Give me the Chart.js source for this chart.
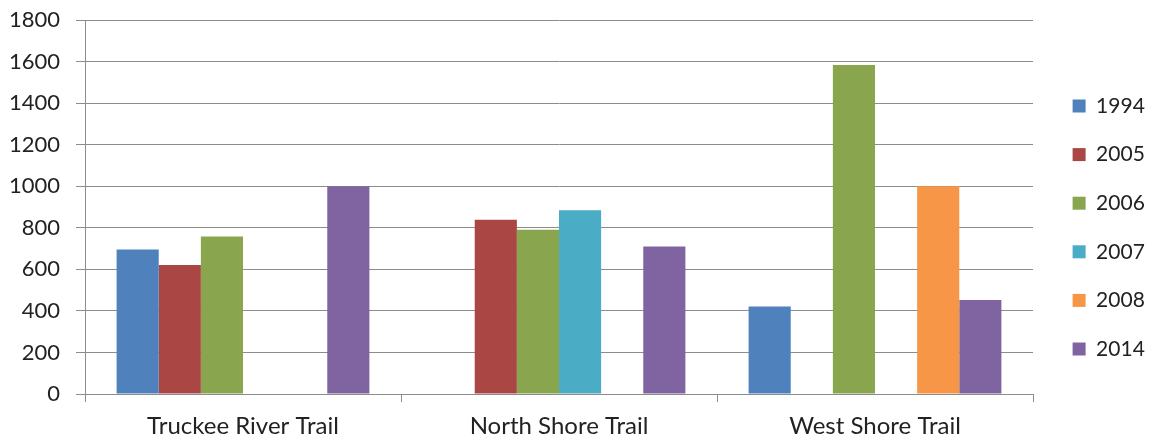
<!DOCTYPE html>
<html>
<head>
<meta charset="utf-8">
<script src="https://cdn.jsdelivr.net/npm/chart.js@4/dist/chart.umd.min.js"></script>
<style>
  html, body { margin: 0; padding: 0; background: #fff; }
  #wrap { width: 1155px; height: 443px; position: relative; }
</style>
</head>
<body>
<div id="wrap"><canvas id="c"></canvas></div>
<script>
// Trail counts by year
const trails = ['Truckee River Trail', 'North Shore Trail', 'West Shore Trail'];
const years = ['1994', '2005', '2006', '2007', '2008', '2014'];
const v1994 = [695, null, 421];
const v2005 = [621, 839, null];
const v2006 = [758, 790, 1584];
const v2007 = [null, 884, null];
const v2008 = [null, null, 1000];
const v2014 = [1000, 710, 453];
const yTicks = [0, 200, 400, 600, 800, 1000, 1200, 1400, 1600, 1800];

const colors = ['#4F81BD', '#AA4643', '#89A54E', '#4BACC6', '#F79646', '#8064A2'];
const seriesValues = [v1994, v2005, v2006, v2007, v2008, v2014];

const datasets = years.map((y, i) => ({
  label: y,
  data: seriesValues[i],
  backgroundColor: colors[i],
  borderWidth: 0,
  categoryPercentage: 0.8,
  barPercentage: 1.0
}));

const family = 'Lato, "Open Sans", sans-serif';
const LEGEND_WIDTH = 122;
const LEGEND_INSET_X = 12;
const LEGEND_LIFT_Y = 4;

const chart = new Chart(document.getElementById('c'), {
  type: 'bar',
  data: { labels: trails, datasets },
  options: {
    responsive: true,
    maintainAspectRatio: false,
    animation: false,
    layout: { padding: { top: 20, right: 0, bottom: 0, left: 0 } },
    plugins: {
      tooltip: { enabled: false },
      legend: {
        position: 'right',
        align: 'center',
        labels: {
          font: { family, size: 21 },
          color: '#222',
          boxWidth: 13,
          boxHeight: 13,
          padding: 27.6
        }
      }
    },
    scales: {
      x: {
        offset: true,
        grid: {
          offset: true,
          drawOnChartArea: false,
          drawTicks: true,
          tickLength: 8,
          color: '#8c8c8c'
        },
        border: { color: '#8c8c8c', width: 1 },
        ticks: { font: { family, size: 24 }, color: '#222', padding: 10 },
        afterFit: s => { s.height = 49; }
      },
      y: {
        min: 0,
        max: 1800,
        afterBuildTicks: s => { s.ticks = yTicks.map(v => ({ value: v })); },
        grid: {
          color: '#8c8c8c',
          tickLength: 9
        },
        border: { color: '#8c8c8c', width: 1 },
        ticks: {
          font: { family, size: 22 },
          color: '#222',
          padding: 16,
          callback: v => String(v)
        },
        afterFit: s => {
          s.width = 85;
          s.paddingTop = 0;
          s.paddingBottom = 0;
        }
      }
    }
  }
});

// Give the legend a fixed column width and nudge its entries into place
const legend = chart.legend;
const baseFit = legend.fit.bind(legend);
legend.fit = function () { baseFit(); this.width = LEGEND_WIDTH; };
const baseDraw = legend.draw.bind(legend);
legend.draw = function () {
  this.left += LEGEND_INSET_X;
  this.top -= LEGEND_LIFT_Y;
  this.bottom -= LEGEND_LIFT_Y;
  baseDraw();
  this.left -= LEGEND_INSET_X;
  this.top += LEGEND_LIFT_Y;
  this.bottom += LEGEND_LIFT_Y;
};
chart.update();
</script>
</body>
</html>
